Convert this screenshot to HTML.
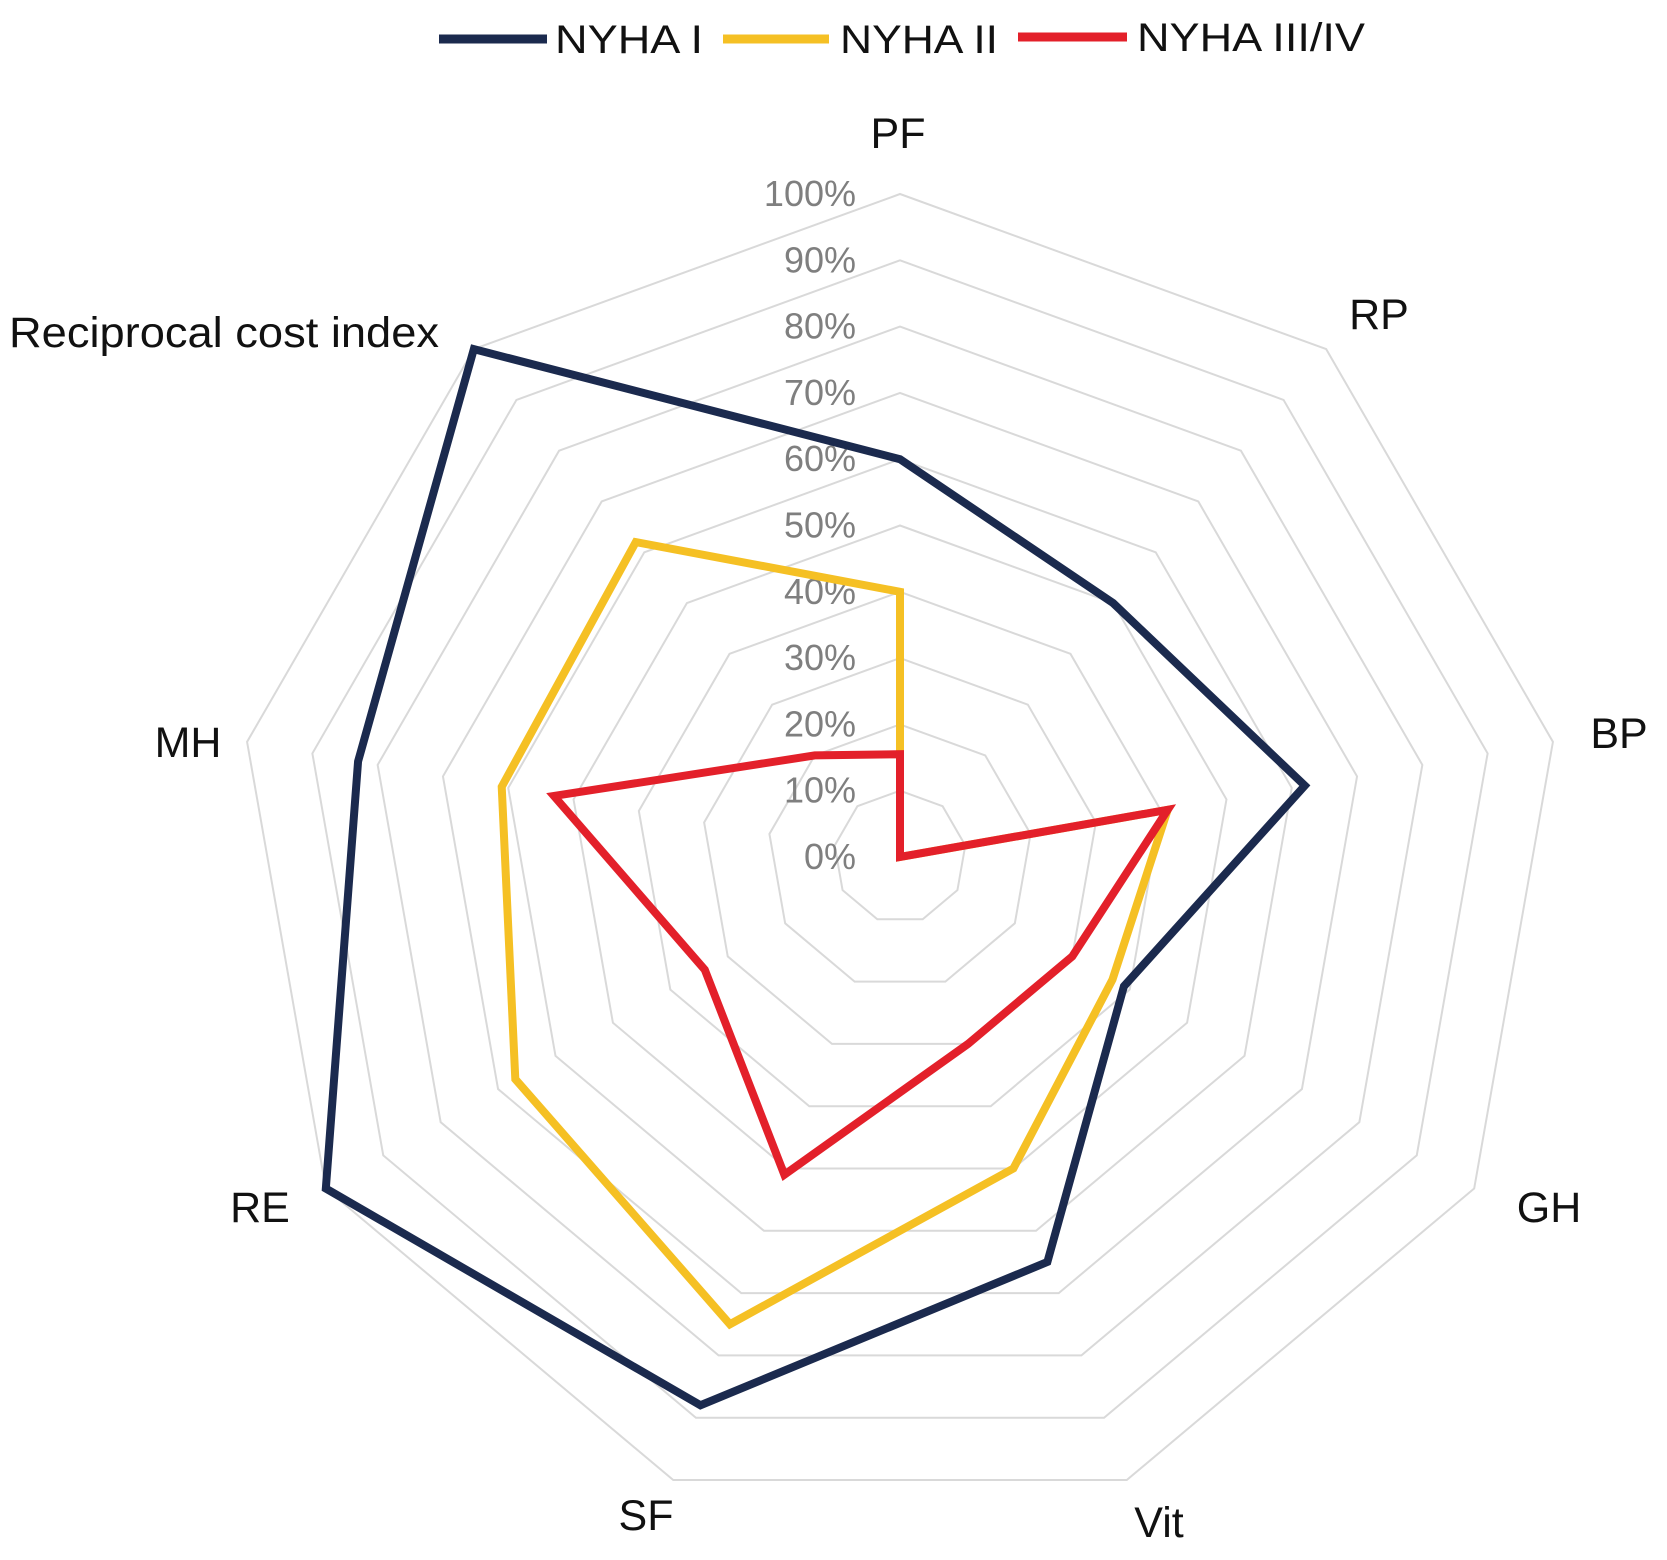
<!DOCTYPE html>
<html><head><meta charset="utf-8"><style>
html,body{margin:0;padding:0;background:#fff}
svg{display:block}
text{font-family:"Liberation Sans",sans-serif}
</style></head><body>
<svg id="chart" width="1667" height="1560" viewBox="0 0 1667 1560" xmlns="http://www.w3.org/2000/svg">
<g id="rings"></g>
<g id="ticks"></g>
<g id="axislabels"></g>
<g id="series"></g>
<g id="legend">
  <g>
    <line x1="439" y1="39" x2="547" y2="39" stroke="#1b2a4e" stroke-width="9"/>
    <text x="555" y="53" font-size="40" textLength="148" lengthAdjust="spacingAndGlyphs" fill="#111">NYHA I</text>
  </g>
  <g>
    <line x1="723" y1="39" x2="829" y2="39" stroke="#f5c024" stroke-width="9"/>
    <text x="840" y="53" font-size="40" textLength="158" lengthAdjust="spacingAndGlyphs" fill="#111">NYHA II</text>
  </g>
  <g>
    <line x1="1018" y1="37" x2="1127" y2="37" stroke="#e3202a" stroke-width="9"/>
    <text x="1137" y="51" font-size="40" textLength="228" lengthAdjust="spacingAndGlyphs" fill="#111">NYHA III/IV</text>
  </g>
</g>
</svg>
<script>
const categories = ["PF","RP","BP","GH","Vit","SF","RE","MH","Reciprocal cost index"];
const nyha1 = [0.60,0.50,0.62,0.39,0.65,0.88,1.00,0.83,1.00];
const nyha2 = [0.40,0.00,0.41,0.37,0.50,0.75,0.67,0.61,0.62];
const nyha34 = [0.155,0.00,0.41,0.30,0.30,0.51,0.34,0.53,0.20];
const tickLabels = ["0%","10%","20%","30%","40%","50%","60%","70%","80%","90%","100%"];
const tickValues = [0,0.1,0.2,0.3,0.4,0.5,0.6,0.7,0.8,0.9,1.0];

const CX=900, CY=857, R=663, NS="http://www.w3.org/2000/svg";
const N=categories.length;
function ang(i){return i*2*Math.PI/N;}
function pt(i,v){const a=ang(i);return [CX+Math.sin(a)*R*v, CY-Math.cos(a)*R*v];}
function mk(tag,attrs){const e=document.createElementNS(NS,tag);for(const k in attrs)e.setAttribute(k,attrs[k]);return e;}

const rings=document.getElementById('rings');
tickValues.forEach((v,j)=>{
  if(v===0)return;
  const p=categories.map((c,i)=>pt(i,v).join(',')).join(' ');
  const poly=mk('polygon',{points:p,fill:'none',stroke:'#d9d9d9','stroke-width':2});
  
  
  rings.appendChild(poly);
});

const ticks=document.getElementById('ticks');
tickValues.forEach((v,j)=>{
  const t=mk('text',{x:856,y:CY-R*v+12,'text-anchor':'end','font-size':36,fill:'#7f7f7f'});
  t.textContent=tickLabels[j];
  
  
  ticks.appendChild(t);
});

const labelPos=[[898,133],[1379,314],[1619,733],[1549,1207],[1159,1522],[646,1515],[260,1207],[188,742],[226,332]];
const al=document.getElementById('axislabels');
categories.forEach((c,i)=>{
  const attrs={x:labelPos[i][0],y:labelPos[i][1]+15,'text-anchor':'middle','font-size':43,fill:'#111'};
  if(c.length>5){attrs.textLength=430;attrs.lengthAdjust='spacingAndGlyphs';attrs.x=labelPos[i][0]-2;}
  const t=mk('text',attrs);
  t.textContent=c;
  
  
  al.appendChild(t);
});

const sg=document.getElementById('series');
[[nyha1,'#1b2a4e','series-nyha-i'],[nyha2,'#f5c024','series-nyha-ii'],[nyha34,'#e3202a','series-nyha-iii-iv']].forEach(([d,col,name])=>{
  const p=d.map((v,i)=>pt(i,v).join(',')).join(' ');
  const poly=mk('polygon',{points:p,fill:'none',stroke:col,'stroke-width':8,'stroke-linejoin':'miter'});
  
  
  sg.appendChild(poly);
});
</script>
</body></html>
